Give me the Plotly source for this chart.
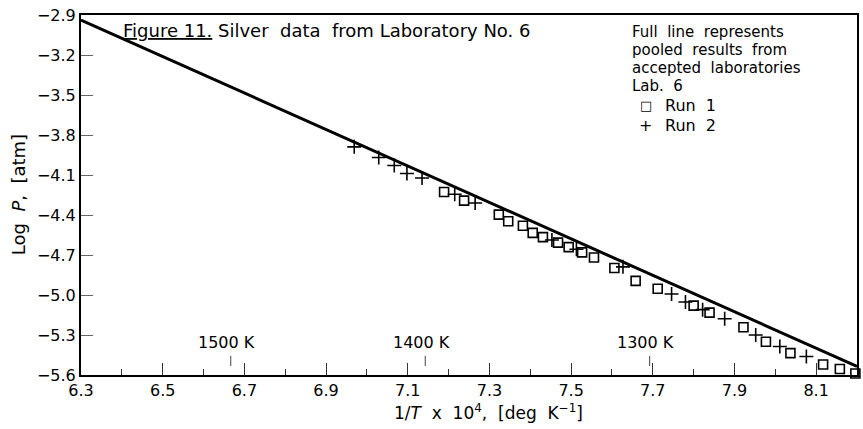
import plotly.graph_objects as go

# ---- data ----
run1_x = [7.189, 7.238, 7.323, 7.346, 7.382, 7.406, 7.431, 7.468, 7.494, 7.527, 7.556,
          7.606, 7.658, 7.712, 7.800, 7.839, 7.922, 7.977, 8.037, 8.117, 8.158, 8.196]
run1_y = [-4.227, -4.292, -4.397, -4.447, -4.481, -4.534, -4.566, -4.607, -4.641, -4.680, -4.719,
          -4.797, -4.894, -4.953, -5.080, -5.132, -5.242, -5.351, -5.436, -5.521, -5.555, -5.589]

run2_x = [6.969, 7.029, 7.067, 7.098, 7.135, 7.215, 7.265, 7.453, 7.513, 7.627, 7.746,
          7.780, 7.822, 7.876, 7.952, 8.011, 8.076]
run2_y = [-3.889, -3.969, -4.029, -4.089, -4.122, -4.244, -4.310, -4.588, -4.657, -4.789, -4.992,
          -5.053, -5.110, -5.178, -5.300, -5.386, -5.461]

pooled_x = [6.3, 8.2]
pooled_y = [-2.938, -5.536]

temps_K = [1500, 1400, 1300]
temp_labels = ["1500\u00a0K", "1400\u00a0K", "1300\u00a0K"]

x_title = "1/<i>T</i>\u00a0 x\u00a0 10<sup>4</sup>,\u00a0 [deg\u00a0 K<sup>\u22121</sup>]"
y_title = "Log\u00a0 <i>P</i>,\u00a0 [atm]"
fig_title = "<u>Figure 11.</u> Silver\u00a0 data\u00a0 from Laboratory No. 6"
note_lines = ["Full\u00a0 line\u00a0 represents", "pooled\u00a0 results\u00a0 from",
              "accepted\u00a0 laboratories", "Lab.\u00a0 6"]
legend_symbols = ["\u25a1", "+"]
legend_names = ["Run\u00a0 1", "Run\u00a0 2"]

FONT = "DejaVu Sans"

# ---- layout geometry (pixels) ----
W, H = 863, 429
ML, MR, MT, MB = 81, 4, 15, 54
PW, PH = W - ML - MR, H - MT - MB


def px(xp):
    return (xp - ML) / PW


def py(yp):
    return 1 - (yp - MT) / PH


fig = go.Figure()

fig.add_trace(go.Scatter(x=pooled_x, y=pooled_y, mode="lines",
                         line=dict(color="black", width=3), showlegend=False,
                         cliponaxis=False))
fig.add_trace(go.Scatter(x=run1_x, y=run1_y, mode="markers", name="Run 1",
                         marker=dict(symbol="square-open", size=9, color="black",
                                     line=dict(width=1.6, color="black")),
                         showlegend=False, cliponaxis=False))
fig.add_trace(go.Scatter(x=run2_x, y=run2_y, mode="markers", name="Run 2",
                         marker=dict(symbol="cross-thin-open", size=10, color="black",
                                     line=dict(width=1.6, color="black")),
                         showlegend=False, cliponaxis=False))

annotations = []
shapes = []

# temperature scale
for T, lab in zip(temps_K, temp_labels):
    xv = 1e4 / T
    shapes.append(dict(type="line", xref="x", yref="paper", x0=xv, x1=xv,
                       y0=py(366), y1=py(356), line=dict(color="#444", width=1)))
    annotations.append(dict(xref="x", yref="paper", x=xv, y=py(342), text=lab,
                            showarrow=False, xanchor="center", yanchor="middle",
                            xshift=-4, font=dict(family=FONT, size=16, color="black")))

# title
annotations.append(dict(xref="paper", yref="paper", x=px(121), y=py(31), text=fig_title,
                        showarrow=False, xanchor="left", yanchor="middle",
                        font=dict(family=FONT, size=18, color="black")))

# note text block
for t, yy in zip(note_lines, [32, 50, 68, 86]):
    annotations.append(dict(xref="paper", yref="paper", x=px(631), y=py(yy), text=t,
                            showarrow=False, xanchor="left", yanchor="middle",
                            font=dict(family=FONT, size=15, color="black")))

# legend entries
for sym, name, yy in zip(legend_symbols, legend_names, [105, 125]):
    annotations.append(dict(xref="paper", yref="paper", x=px(647), y=py(yy), text=sym,
                            showarrow=False, xanchor="center", yanchor="middle",
                            font=dict(family=FONT, size=13 if sym != "+" else 16, color="black")))
    annotations.append(dict(xref="paper", yref="paper", x=px(664), y=py(yy), text=name,
                            showarrow=False, xanchor="left", yanchor="middle",
                            font=dict(family=FONT, size=16, color="black")))

# axis titles
annotations.append(dict(xref="paper", yref="paper", x=px(490), y=py(412), text=x_title,
                        showarrow=False, xanchor="center", yanchor="middle",
                        font=dict(family=FONT, size=17, color="black")))
annotations.append(dict(xref="paper", yref="paper", x=px(18), y=py(195), text=y_title,
                        showarrow=False, xanchor="center", yanchor="middle", textangle=-90,
                        font=dict(family=FONT, size=18, color="black")))

fig.update_layout(
    width=W, height=H,
    margin=dict(l=ML, r=MR, t=MT, b=MB, pad=0),
    paper_bgcolor="white", plot_bgcolor="white",
    font=dict(family=FONT, size=16, color="black"),
    annotations=annotations, shapes=shapes,
    showlegend=False,
)
fig.update_xaxes(range=[6.3, 8.2], tick0=6.3, dtick=0.2, tickformat=".1f",
                 ticks="inside", ticklen=12, tickwidth=1, tickcolor="#333",
                 minor=dict(dtick=0.1, tick0=6.3, ticks="inside", ticklen=6, tickcolor="#333", tickwidth=1),
                 showline=True, linecolor="black", linewidth=2, mirror=True,
                 showgrid=False, zeroline=False,
                 tickfont=dict(family=FONT, size=16, color="black"))
fig.update_yaxes(range=[-5.6, -2.9], tick0=-2.9, dtick=0.3, tickformat=".1f",
                 ticks="inside", ticklen=12, tickwidth=1, tickcolor="#666",
                 showline=True, linecolor="black", linewidth=2, mirror=True,
                 showgrid=False, zeroline=False,
                 tickfont=dict(family=FONT, size=16, color="black"))

fig.write_html("out.html")
